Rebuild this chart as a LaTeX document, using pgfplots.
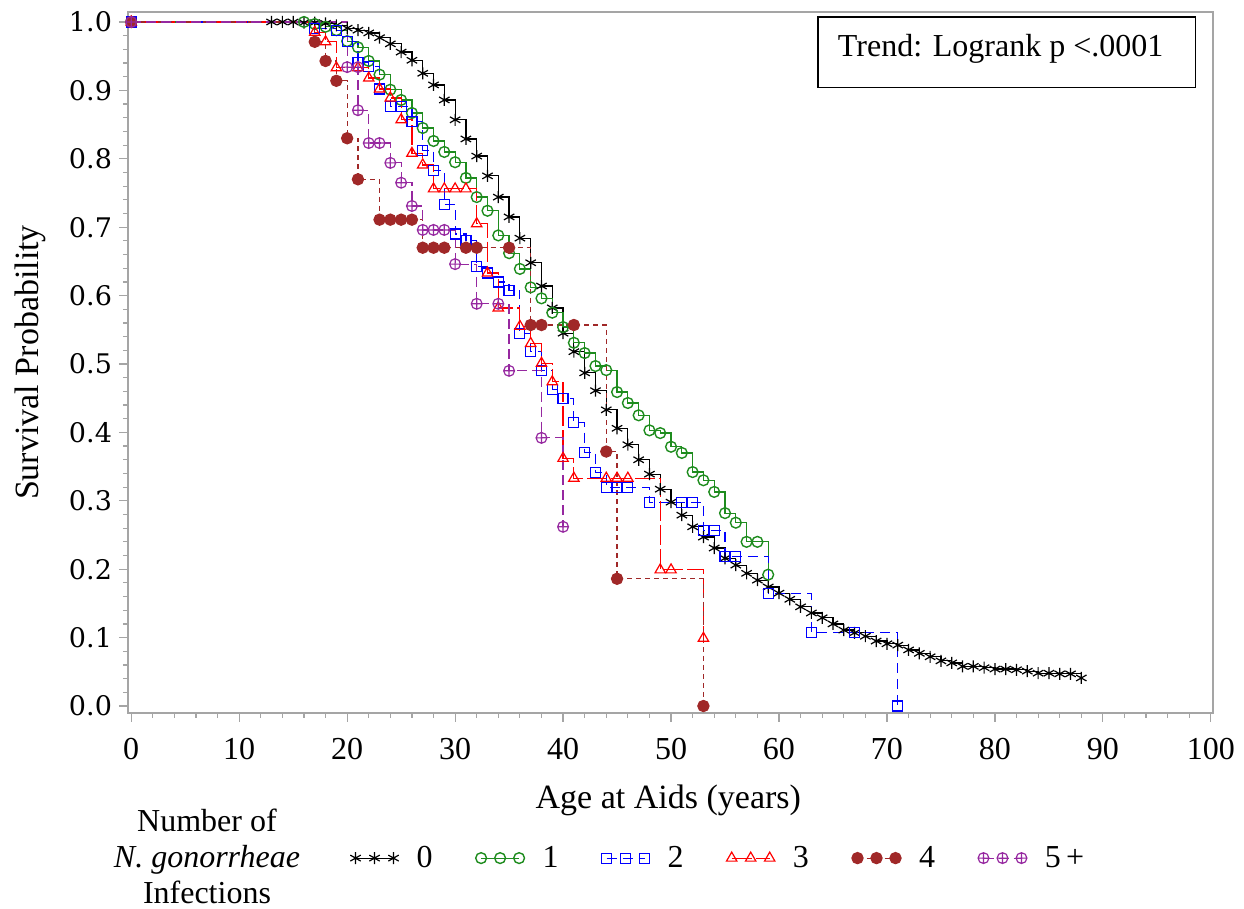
\documentclass[border=0pt]{standalone}
\usepackage{fontspec}
\setmainfont{Liberation Serif}
\newfontfamily\yfont{DejaVu Serif}
\usepackage{pgfplots}
\pgfplotsset{compat=1.18}
\definecolor{cgreen}{RGB}{30,140,30}
\definecolor{cbrown}{RGB}{160,40,40}
\definecolor{cpurple}{RGB}{150,40,160}
\definecolor{cframe}{RGB}{165,165,165}

\pgfplotstableread{
x y
0 1.0
13 1.0
14 1.0
15 1.0
16 0.999
17 0.999
18 0.998
19 0.995
20 0.991
21 0.988
22 0.984
23 0.977
24 0.968
25 0.956
26 0.944
27 0.925
28 0.908
29 0.886
30 0.857
31 0.829
32 0.804
33 0.775
34 0.744
35 0.715
36 0.684
37 0.648
38 0.614
39 0.582
40 0.545
41 0.518
42 0.487
43 0.461
44 0.433
45 0.406
46 0.382
47 0.360
48 0.339
49 0.317
50 0.298
51 0.279
52 0.262
53 0.247
54 0.231
55 0.216
56 0.206
57 0.194
58 0.184
59 0.174
60 0.165
61 0.156
62 0.145
63 0.136
64 0.129
65 0.120
66 0.111
67 0.107
68 0.102
69 0.095
70 0.091
71 0.089
72 0.082
73 0.077
74 0.072
75 0.066
76 0.063
77 0.058
78 0.058
79 0.056
80 0.054
81 0.054
82 0.053
83 0.051
84 0.048
85 0.048
86 0.047
87 0.047
88 0.041
}\tzero

\pgfplotstableread{
x y
0 1.0
16 1.0
17 0.997
18 0.993
19 0.988
20 0.972
21 0.963
22 0.943
23 0.923
24 0.901
25 0.886
26 0.867
27 0.845
28 0.826
29 0.810
30 0.795
31 0.772
32 0.744
33 0.724
34 0.688
35 0.662
36 0.639
37 0.612
38 0.596
39 0.575
40 0.554
41 0.531
42 0.516
43 0.497
44 0.491
45 0.459
46 0.443
47 0.425
48 0.403
49 0.399
50 0.379
51 0.370
52 0.342
53 0.330
54 0.313
55 0.282
56 0.268
57 0.240
58 0.240
59 0.192
}\tone

\pgfplotstableread{
x y
0 1.0
17 0.991
19 0.988
20 0.971
21 0.941
22 0.935
23 0.902
24 0.876
25 0.876
26 0.855
27 0.812
28 0.783
29 0.733
30 0.690
31 0.680
32 0.642
33 0.633
34 0.620
35 0.608
36 0.545
37 0.518
38 0.491
39 0.463
40 0.449
41 0.415
42 0.371
43 0.341
44 0.320
45 0.320
46 0.320
48 0.298
51 0.298
52 0.298
53 0.257
54 0.257
55 0.218
56 0.218
59 0.164
63 0.108
67 0.107
71 0.0
}\ttwo

\pgfplotstableread{
x y
0 1.0
17 0.985
18 0.971
19 0.933
21 0.933
22 0.918
23 0.902
24 0.889
25 0.857
26 0.808
27 0.791
28 0.756
29 0.756
30 0.756
31 0.756
32 0.705
33 0.633
34 0.582
36 0.555
37 0.530
38 0.501
39 0.474
40 0.362
41 0.333
44 0.333
45 0.333
46 0.333
49 0.199
50 0.199
53 0.099
}\tthree

\pgfplotstableread{
x y
0 1.0
17 0.971
18 0.943
19 0.914
20 0.830
21 0.770
23 0.711
24 0.711
25 0.711
26 0.711
27 0.670
28 0.670
29 0.670
31 0.670
32 0.670
35 0.670
37 0.557
38 0.557
41 0.557
44 0.372
45 0.186
53 0.0
}\tfour

\pgfplotstableread{
x y
0 1.0
20 0.934
21 0.934
21 0.871
22 0.823
23 0.823
24 0.794
25 0.765
26 0.731
27 0.696
28 0.696
29 0.696
30 0.646
32 0.588
34 0.588
35 0.490
38 0.392
40 0.262
}\tfive

\begin{document}
\begin{tikzpicture}
\path[use as bounding box] (-64pt,-98pt) rectangle (558pt,356.5pt);
\begin{axis}[
  at={(0,0)}, anchor=south west,
  scale only axis, width=542.5pt, height=350.5pt,
  xmin=-0.3, xmax=100.2, ymin=-0.0102, ymax=1.0146,
  clip=false,
  xtick={0,10,20,30,40,50,60,70,80,90,100}, minor x tick num=4,
  ytick={0,0.1,0.2,0.3,0.4,0.5,0.6,0.7,0.8,0.9,1.0}, minor y tick num=4,
  tick align=outside, tick pos=left,
  major tick length=4.5pt, minor tick length=2.5pt,
  axis line style={cframe, line width=0.6pt},
  every tick/.style={cframe, line width=0.6pt},
  /pgf/number format/assume math mode=true,
  xticklabel style={font=\fontsize{16}{19}\selectfont, yshift=-4.5pt},
  yticklabel style={font=\yfont\fontsize{13.5}{16}\selectfont,
     /pgf/number format/.cd, fixed, fixed zerofill, precision=1},
  xlabel={Age at Aids (years)},
  ylabel={Survival Probability},
  xlabel style={at={(axis description cs:0.498,-0.124)}, anchor=center, font=\fontsize{17}{20}\selectfont},
  ylabel style={at={(axis description cs:-0.0903,0.5)}, anchor=center, font=\fontsize{17}{20}\selectfont},
  legend style={at={(axis description cs:0.199,-0.207)}, anchor=west, draw=none, fill=none,
     font=\fontsize{16}{19}\selectfont,
     /tikz/every odd column/.append style={column sep=7pt},
     /tikz/every even column/.append style={column sep=19.5pt}},
  legend columns=-1,
  legend image code/.code={\draw[mark repeat=1,mark phase=1,#1] plot coordinates {(0pt,0pt) (9.5pt,0pt) (19pt,0pt)};},
]
\addplot[black, line width=0.6pt, const plot, mark=asterisk, mark size=3pt, mark options={solid, line width=0.6pt}] table {\tzero};
\addplot[cgreen, line width=0.6pt, const plot, mark=o, mark size=2.7pt, mark options={solid, line width=0.7pt}] table {\tone};
\addplot[blue, line width=0.6pt, const plot, dash pattern=on 5pt off 3pt, mark=square, mark size=2.5pt, mark options={solid, line width=0.6pt}] table {\ttwo};
\addplot[red, line width=0.6pt, const plot, dash pattern=on 10pt off 2pt, mark=triangle, mark size=3pt, mark options={solid, line width=0.6pt}] table {\tthree};
\addplot[cbrown, line width=0.6pt, const plot, dash pattern=on 2.5pt off 2pt, mark=*, mark size=2.8pt, mark options={solid, fill=cbrown}] table {\tfour};
\addplot[cpurple, line width=0.6pt, const plot, dash pattern=on 5pt off 2.5pt, mark=oplus, mark size=2.7pt, mark options={solid, line width=0.6pt}] table {\tfive};
\legend{0,1,2,3,4,5\,+}
\draw[black, line width=0.6pt] (rel axis cs:0.636,0.892) rectangle (rel axis cs:0.984,0.993);
\node[anchor=base west, font=\fontsize{16}{19}\selectfont, inner sep=0pt] at (rel axis cs:0.654,0.936) {Trend: Logrank p <.0001};
\node[align=center, font=\fontsize{16}{18}\selectfont] at (rel axis cs:0.0728,-0.204) {Number of\\\textit{N. gonorrheae}\\Infections};
\end{axis}
\end{tikzpicture}
\end{document}
